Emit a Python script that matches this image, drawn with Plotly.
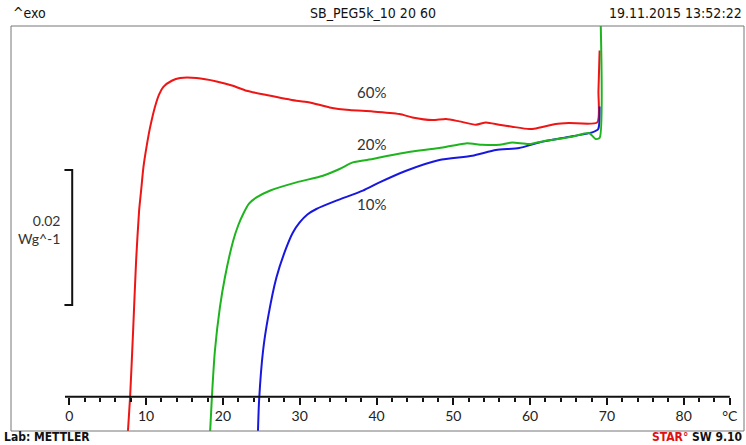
import plotly.graph_objects as go

# Temperature (°C) and heat flow (mW/g, arbitrary offset)
red_T = [7.6, 7.92, 8.31, 8.70, 9.09, 9.35, 9.65, 10.1, 10.52, 11.17, 11.7, 12.25, 13.34, 14.42, 16.58, 19.18,
         21.30, 23.08, 25.68, 29.57, 31.30, 33.90, 36.49, 39.48, 42.99, 44.68, 47.27, 49.05, 50.78,
         52.95, 54.25, 55.97, 57.66, 59.87, 60.74, 63.34, 65.06, 68.74, 68.90, 69.05]
red_Y = [-5.8, 0.0, 9.78, 20.15, 27.56, 30.52, 33.97, 37.3, 39.90, 43.0, 44.8, 45.9, 46.81, 47.21, 47.21, 46.71,
         46.07, 45.33, 44.70, 43.85, 43.60, 42.86, 42.47, 42.27, 41.88, 41.38, 40.99, 41.14, 40.79,
         40.30, 40.64, 40.30, 40.00, 39.66, 39.75, 40.40, 40.55, 40.64, 45.3, 51.3]

green_T = [18.31, 18.57, 18.96, 19.61, 20.26, 21.34, 22.0, 22.64, 23.4, 24.38, 26.10, 29.57, 33.03, 35.19, 36.92,
           39.48, 40.39, 43.86, 48.18, 51.65, 53.77, 55.97, 57.66, 59.87, 62.04, 65.45, 67.66, 68.53,
           69.05, 69.18]
green_Y = [-5.78, 0.0, 6.81, 13.23, 17.67, 23.11, 25.4, 27.07, 28.6, 29.53, 30.52, 31.75, 32.74, 33.73, 34.71,
           35.21, 35.45, 36.19, 36.84, 37.53, 37.33, 37.33, 37.67, 37.44, 37.93, 38.52, 39.07, 38.18,
           38.33, 56.0]

blue_T = [24.55, 24.71, 25.23, 25.88, 26.97, 28.27, 29.1, 30.00, 31.0, 32.17, 34.77, 38.22, 40.39, 43.86, 48.18,
          52.47, 55.55, 58.57, 61.17, 64.64, 68.09, 68.87, 69.05]
blue_Y = [-5.78, -0.59, 6.81, 11.75, 17.67, 22.12, 24.3, 25.82, 27.0, 27.81, 29.04, 30.52, 31.75, 33.48, 35.07,
          35.70, 36.55, 36.84, 37.67, 38.41, 39.16, 39.66, 43.0]

major_ticks = [0, 10, 20, 30, 40, 50, 60, 70, 80, 86]
major_labels = ["0", "10", "20", "30", "40", "50", "60", "70", "80", "°C"]
minor_ticks = [t for t in range(2, 86, 2) if t % 10 != 0]

series_labels = ["60%", "20%", "10%"]
label_T = [39.3, 39.3, 39.3]
label_Y = [45.1, 37.4, 28.5]

scale_T = [-0.63, 0.38, 0.38, -0.63]
scale_Y = [33.6, 33.6, 13.6, 13.6]

fig = go.Figure()
fig.add_trace(go.Scatter(x=red_T, y=red_Y, mode="lines", line=dict(color="#ee1515", width=2, shape="spline", smoothing=0.6)))
fig.add_trace(go.Scatter(x=blue_T, y=blue_Y, mode="lines", line=dict(color="#1717e0", width=2, shape="spline", smoothing=0.6)))
fig.add_trace(go.Scatter(x=green_T, y=green_Y, mode="lines", line=dict(color="#1db41d", width=2, shape="spline", smoothing=0.6)))
fig.add_trace(go.Scatter(x=scale_T, y=scale_Y, mode="lines", line=dict(color="#111111", width=2)))

for lab, tx, ty in zip(series_labels, label_T, label_Y):
    fig.add_annotation(x=tx, y=ty, text=lab, showarrow=False,
                       font=dict(family="Lato, Open Sans, sans-serif", size=15, color="#333333"))

fig.add_annotation(x=-0.9, y=24.7, text="0.02<br>Wg^-1", showarrow=False, xanchor="right", align="right",
                   font=dict(family="Lato, Open Sans, sans-serif", size=14, color="#333333"))

# x axis baseline
fig.add_shape(type="line", x0=-0.56, x1=86, y0=0, y1=0, xref="x", yref="y",
              line=dict(color="#111111", width=2))
# frame
fig.add_shape(type="rect", x0=0, x1=1, y0=0, y1=1, xref="paper", yref="paper",
              line=dict(color="#777777", width=1))

hdr = dict(family="Liberation Sans Narrow, DejaVu Sans Condensed, sans-serif", size=14, color="#111111")
fig.add_annotation(x=0.0, y=1.032, xref="paper", yref="paper", text="^exo", showarrow=False,
                   xanchor="left", yanchor="middle", font=hdr)
fig.add_annotation(x=0.494, y=1.032, xref="paper", yref="paper", text="SB_PEG5k_10 20 60", showarrow=False,
                   xanchor="center", yanchor="middle", font=hdr)
fig.add_annotation(x=1.0, y=1.032, xref="paper", yref="paper", text="19.11.2015 13:52:22", showarrow=False,
                   xanchor="right", yanchor="middle", font=hdr)

ftr = dict(family="Liberation Sans Narrow, DejaVu Sans Condensed, sans-serif", size=12, color="#111111")
fig.add_annotation(x=-0.011, y=-0.015, xref="paper", yref="paper", text="<b>Lab: METTLER</b>", showarrow=False,
                   xanchor="left", yanchor="middle", font=ftr, borderpad=0)
fig.add_annotation(x=0.999, y=-0.015, xref="paper", yref="paper",
                   text="<b><span style='color:#e01010'>STAR°</span> SW 9.10</b>", showarrow=False,
                   xanchor="right", yanchor="middle", font=ftr, borderpad=0)

fig.update_layout(
    width=746, height=445,
    margin=dict(l=11, r=2, t=26, b=14),
    paper_bgcolor="white", plot_bgcolor="white",
    showlegend=False,
    xaxis=dict(range=[-7.59, 87.85], showgrid=False, zeroline=False, showline=False,
               anchor="free", position=0.0847,
               tickmode="array", tickvals=major_ticks, ticktext=major_labels,
               ticks="outside", ticklen=7, tickwidth=2, tickcolor="#111111",
               tickfont=dict(family="Lato, Open Sans, sans-serif", size=14, color="#222222"),
               minor=dict(tickvals=minor_ticks, ticks="outside", ticklen=4, tickwidth=2, tickcolor="#111111")),
    yaxis=dict(range=[-5.08, 54.92], showgrid=False, zeroline=False, showline=False,
               showticklabels=False, ticks=""),
)

fig.write_html("out.html", config={"displayModeBar": False},
               post_script="document.body.style.margin='0';document.body.style.padding='0';document.body.style.overflow='hidden';")
